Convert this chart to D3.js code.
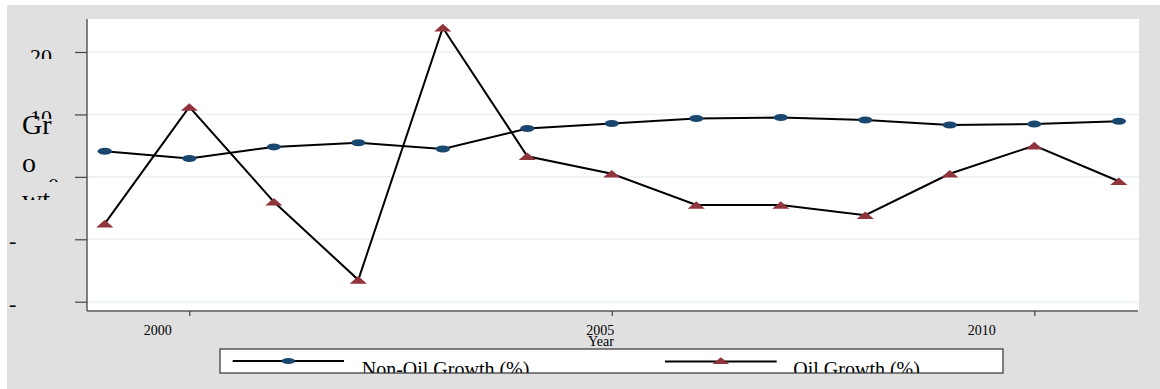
<!DOCTYPE html>
<html>
<head>
<meta charset="utf-8">
<script src="https://cdn.jsdelivr.net/npm/d3@7"></script>
<style>
  html, body { margin: 0; padding: 0; background: #ffffff; }
  svg { display: block; }
  text { font-family: "Liberation Serif", "Times New Roman", serif; fill: #000; }
</style>
</head>
<body>
<svg id="chart" width="1160" height="389"></svg>
<script>
// Annual growth rates, oil vs non-oil sectors
const years = [1999, 2000, 2001, 2002, 2003, 2004, 2005, 2006, 2007, 2008, 2009, 2010, 2011];
const nonOilGrowth = [4.1, 2.95, 4.8, 5.45, 4.45, 7.75, 8.55, 9.35, 9.5, 9.1, 8.3, 8.45, 8.9];
const oilGrowth = [-7.5, 11.2, -4.0, -16.5, 23.9, 3.3, 0.5, -4.5, -4.5, -6.15, 0.5, 5.0, -0.7];
const xTickValues = [2000, 2005, 2010];
const yTickValues = [20, 10, 0, -10, -20];
const seriesNames = ["Non-Oil Growth (%)", "Oil Growth (%)"];
const xTitle = "Year";
const yTitleLines = ["Gr", "o", "wt"];

const svg = d3.select("#chart");
const W = 1160, H = 389;
const plot = { left: 87, right: 1139, top: 19, bottom: 311 };

const x = d3.scaleLinear().domain([2000, 2010]).range([189.3, 1034.3]);
const y = d3.scaleLinear().domain([-20, 20]).range([301.7, 52]);

const navy = "#1a476f", maroon = "#90353b";
const defs = svg.append("defs");

// outer graph region
svg.append("rect").attr("x", 7).attr("y", 5).attr("width", W - 7).attr("height", H - 5)
  .attr("fill", "#e0e0e0");

// plot region
svg.append("rect").attr("x", plot.left).attr("y", plot.top)
  .attr("width", plot.right - plot.left).attr("height", plot.bottom - plot.top)
  .attr("fill", "#ffffff");

// horizontal grid
svg.append("g").selectAll("line").data(yTickValues).join("line")
  .attr("x1", plot.left).attr("x2", plot.right)
  .attr("y1", d => y(d)).attr("y2", d => y(d))
  .attr("stroke", "#eaf2f3").attr("stroke-width", 1.6);

// y axis
const yAxis = svg.append("g").attr("transform", `translate(${plot.left},0)`)
  .call(d3.axisLeft(y).tickValues(yTickValues).tickSize(12).tickFormat(""));
yAxis.select(".domain").attr("d", `M0,${plot.top}V${plot.bottom}`)
  .attr("stroke", "#5a5a5a").attr("stroke-width", 1.5);
yAxis.selectAll(".tick line").attr("stroke", "#444").attr("stroke-width", 1.2);

// y tick labels, each cut to its own visible window
const yLabelLayout = {
  "20":  { anchor: "end",   x: 52, dy: 12, clip: [0, 0, 200, 59] },
  "10":  { anchor: "end",   x: 52, dy: 11, clip: [0, 0, 200, 119] },
  "0":   { anchor: "end",   x: 59, dy: 16, clip: [0, 0, 200, 182] },
  "-10": { anchor: "start", x: 9,  dy: 9,  clip: [0, 0, 17, 389] },
  "-20": { anchor: "start", x: 9,  dy: 9,  clip: [0, 0, 17, 389] }
};
yTickValues.forEach((v, i) => {
  const L = yLabelLayout[String(v)];
  const id = "yclip" + i;
  defs.append("clipPath").attr("id", id).append("rect")
    .attr("x", L.clip[0]).attr("y", L.clip[1]).attr("width", L.clip[2]).attr("height", L.clip[3]);
  svg.append("text").attr("clip-path", `url(#${id})`)
    .attr("x", L.x).attr("y", y(v) + L.dy)
    .attr("text-anchor", L.anchor).attr("font-size", 22)
    .text(v < 0 ? "-" + Math.abs(v) : String(v));
});

// y axis title, broken across lines
defs.append("clipPath").attr("id", "ytitleclip").append("rect")
  .attr("x", 0).attr("y", 0).attr("width", 200).attr("height", 200);
const yTitleBaselines = [134, 172, 209];
const yTitle = svg.append("g").attr("clip-path", "url(#ytitleclip)");
yTitleLines.forEach((t, i) => {
  yTitle.append("text").attr("x", 22).attr("y", yTitleBaselines[i])
    .attr("font-size", 28).text(t);
});

// x axis
const xAxis = svg.append("g").attr("transform", `translate(0,${plot.bottom})`)
  .call(d3.axisBottom(x).tickValues(xTickValues).tickSize(5).tickFormat(d3.format("d")));
xAxis.select(".domain").attr("d", `M${plot.left},0H${plot.right - 1}`)
  .attr("stroke", "#5a5a5a").attr("stroke-width", 1.5);
xAxis.selectAll(".tick line").attr("stroke", "#444").attr("stroke-width", 1.2);
const xLabelShift = [-32, -12, -53];
xAxis.selectAll(".tick text")
  .attr("font-family", "Liberation Serif, serif").attr("font-size", 14).attr("fill", "#000")
  .attr("dy", 0).attr("y", 23.5)
  .attr("dx", (d, i) => xLabelShift[i]);

svg.append("text").attr("x", 588).attr("y", 345.5).attr("font-size", 14).text(xTitle);

// series
const nonOilPts = years.map((yr, i) => [yr, nonOilGrowth[i]]);
const oilPts = years.map((yr, i) => [yr, oilGrowth[i]]);
const line = d3.line().x(d => x(d[0])).y(d => y(d[1]));

const triPath = (hw, hh) => `M0,${-hh}L${hw},${hh}L${-hw},${hh}Z`;

svg.append("path").datum(nonOilPts).attr("d", line)
  .attr("fill", "none").attr("stroke", "#000").attr("stroke-width", 2);
svg.append("path").datum(oilPts).attr("d", line)
  .attr("fill", "none").attr("stroke", "#000").attr("stroke-width", 2);

svg.append("g").selectAll("ellipse").data(nonOilPts).join("ellipse")
  .attr("cx", d => x(d[0])).attr("cy", d => y(d[1]))
  .attr("rx", 7.2).attr("ry", 3.5).attr("fill", navy);

svg.append("g").selectAll("path").data(oilPts).join("path")
  .attr("transform", d => `translate(${x(d[0])},${y(d[1])})`)
  .attr("d", triPath(8.6, 3.8)).attr("fill", maroon);

// legend
const lg = { x: 220, y: 349, w: 783, h: 24 };
defs.append("clipPath").attr("id", "legclip").append("rect")
  .attr("x", lg.x).attr("y", lg.y).attr("width", lg.w).attr("height", lg.h);
svg.append("rect").attr("x", lg.x).attr("y", lg.y).attr("width", lg.w).attr("height", lg.h)
  .attr("fill", "#ffffff");
const legItems = [
  { name: seriesNames[0], x1: 232.7, x2: 344, cy: 361, text: 361.7, marker: "circle" },
  { name: seriesNames[1], x1: 665, x2: 776.7, cy: 361.5, text: 793.3, marker: "tri" }
];
legItems.forEach(it => {
  svg.append("line").attr("x1", it.x1).attr("x2", it.x2).attr("y1", it.cy).attr("y2", it.cy)
    .attr("stroke", "#000").attr("stroke-width", 2);
  const cx = (it.x1 + it.x2) / 2;
  if (it.marker === "circle") {
    svg.append("ellipse").attr("cx", cx).attr("cy", it.cy).attr("rx", 7).attr("ry", 3)
      .attr("fill", navy);
  } else {
    svg.append("path").attr("transform", `translate(${cx},${it.cy - 0.8})`)
      .attr("d", triPath(8.3, 3.4)).attr("fill", maroon);
  }
  svg.append("text").attr("clip-path", "url(#legclip)")
    .attr("x", it.text).attr("y", 375.5).attr("font-size", 20).text(it.name);
});
svg.append("rect").attr("x", lg.x).attr("y", lg.y).attr("width", lg.w).attr("height", lg.h)
  .attr("fill", "none").attr("stroke", "#333").attr("stroke-width", 1.2);
</script>
</body>
</html>
